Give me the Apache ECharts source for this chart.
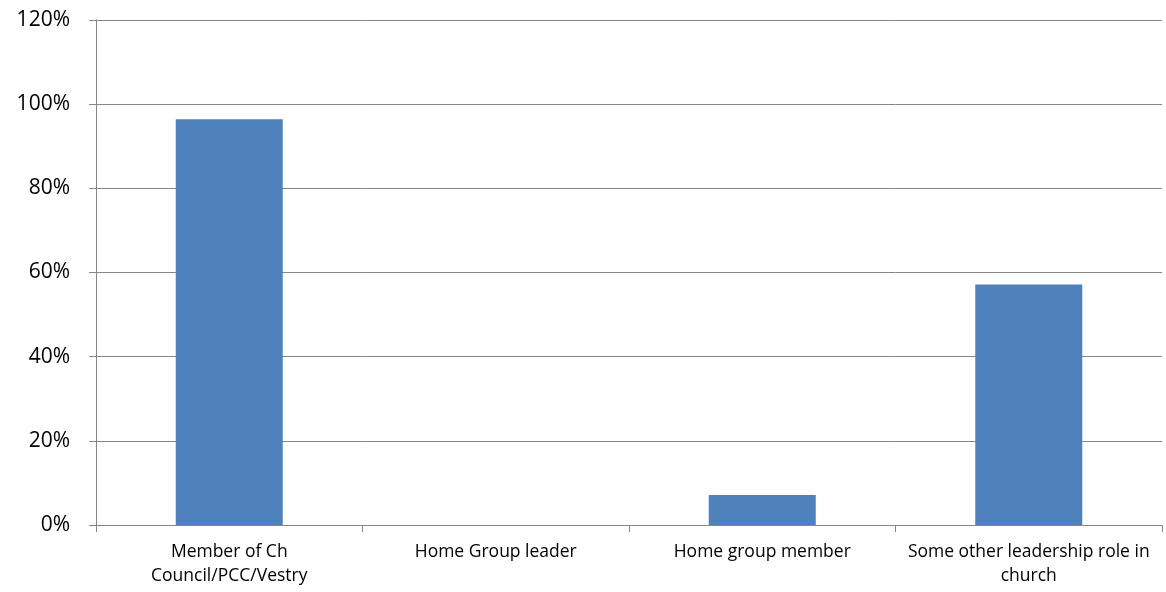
<!DOCTYPE html>
<html><head><meta charset="utf-8">
<script src="https://cdn.jsdelivr.net/npm/echarts@6/dist/echarts.min.js"></script>
<style>html,body{margin:0;padding:0;background:#fff}#c{width:1166px;height:592px}</style>
</head><body><div id="c"></div>
<script>
const categories = ["Member of Ch\nCouncil/PCC/Vestry", "Home Group leader", "Home group member", "Some other leadership role in\nchurch"];
const values = [96.43, 0, 7.14, 57.14];
const yTicks = { min: 0, max: 120, interval: 20 };

const chart = echarts.init(document.getElementById('c'));
chart.setOption({
  animation: false,
  grid: { left: 96, right: 4, top: 20, bottom: 67 },
  xAxis: {
    type: 'category', data: categories,
    axisLine: { lineStyle: { color: '#868686', width: 1 } },
    axisTick: { show: true, length: 7, alignWithLabel: false, lineStyle: { color: '#868686' } },
    axisLabel: { color: '#000', fontFamily: 'Open Sans, Lato, sans-serif', fontSize: 17.5, lineHeight: 24, margin: 15, interval: 0 }
  },
  yAxis: {
    type: 'value', min: yTicks.min, max: yTicks.max, interval: yTicks.interval,
    axisLine: { show: true, lineStyle: { color: '#868686', width: 1 } },
    axisTick: { show: true, length: 7, lineStyle: { color: '#868686' } },
    splitLine: { lineStyle: { color: '#868686', width: 1 } },
    axisLabel: { color: '#000', fontFamily: 'Open Sans, Lato, sans-serif', fontSize: 21, margin: 26, formatter: v => v + '%' }
  },
  series: [{
    type: 'bar', data: values, barWidth: 107,
    itemStyle: { color: '#4F81BD' }
  }]
});
</script></body></html>
